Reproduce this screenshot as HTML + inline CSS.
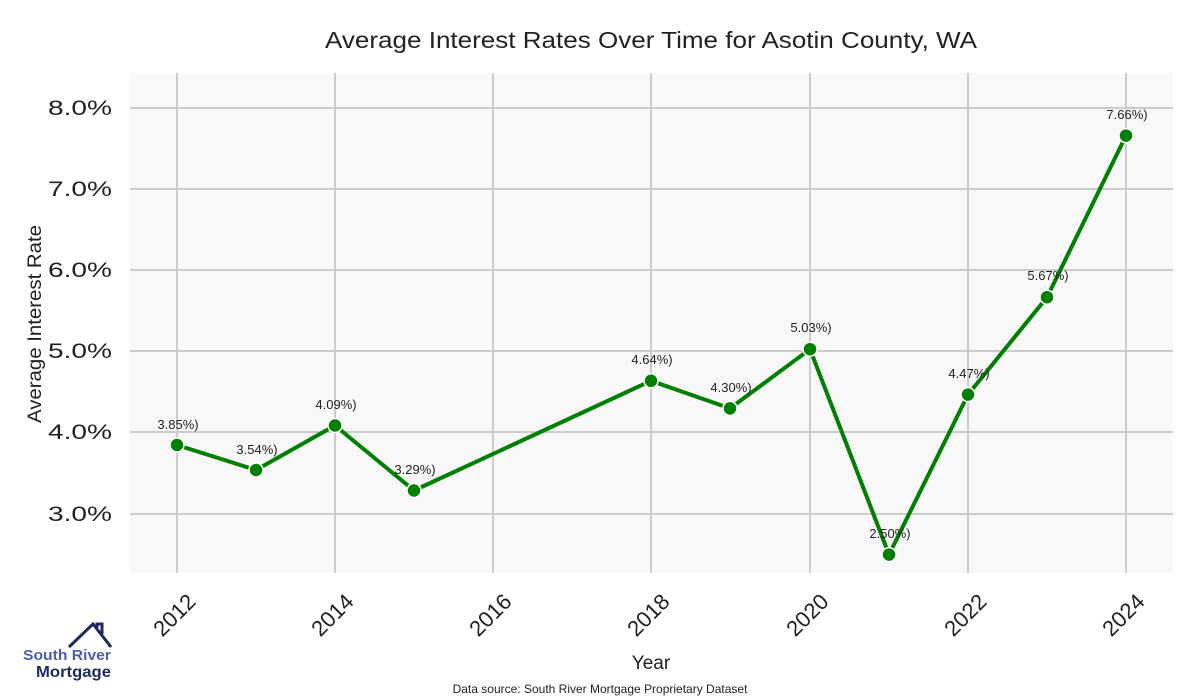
<!DOCTYPE html>
<html><head><meta charset="utf-8"><style>
body{margin:0;background:#fff;}
svg{display:block;font-family:"Liberation Sans",sans-serif;}
</style></head><body>
<svg width="1200" height="700" viewBox="0 0 1200 700">
<rect width="1200" height="700" fill="#fff"/>
<rect x="130" y="73" width="1043" height="500" fill="#f8f8f8"/>
<g stroke="#cccccc" stroke-width="2">
<line x1="177" y1="73" x2="177" y2="573"/><line x1="335" y1="73" x2="335" y2="573"/>
<line x1="493" y1="73" x2="493" y2="573"/><line x1="651" y1="73" x2="651" y2="573"/>
<line x1="810" y1="73" x2="810" y2="573"/><line x1="968" y1="73" x2="968" y2="573"/>
<line x1="1126" y1="73" x2="1126" y2="573"/>
<line x1="130" y1="108" x2="1173" y2="108"/><line x1="130" y1="189" x2="1173" y2="189"/>
<line x1="130" y1="270" x2="1173" y2="270"/><line x1="130" y1="351" x2="1173" y2="351"/>
<line x1="130" y1="432" x2="1173" y2="432"/><line x1="130" y1="514" x2="1173" y2="514"/>
</g>
<text x="325" y="48" font-size="23" fill="#222" textLength="652" lengthAdjust="spacingAndGlyphs">Average Interest Rates Over Time for Asotin County, WA</text>
<g font-size="21" fill="#222">
<text x="48" y="115" textLength="64" lengthAdjust="spacingAndGlyphs">8.0%</text><text x="48" y="196" textLength="64" lengthAdjust="spacingAndGlyphs">7.0%</text><text x="48" y="277" textLength="64" lengthAdjust="spacingAndGlyphs">6.0%</text>
<text x="48" y="358" textLength="64" lengthAdjust="spacingAndGlyphs">5.0%</text><text x="48" y="439" textLength="64" lengthAdjust="spacingAndGlyphs">4.0%</text><text x="48" y="521" textLength="64" lengthAdjust="spacingAndGlyphs">3.0%</text>
</g>
<text transform="translate(41,324) rotate(-90)" text-anchor="middle" font-size="19" fill="#222" textLength="198" lengthAdjust="spacingAndGlyphs">Average Interest Rate</text>
<g font-size="22" fill="#222" text-anchor="end">
<text transform="translate(197,603) rotate(-45)">2012</text>
<text transform="translate(355,603) rotate(-45)">2014</text>
<text transform="translate(513,603) rotate(-45)">2016</text>
<text transform="translate(671,603) rotate(-45)">2018</text>
<text transform="translate(830,603) rotate(-45)">2020</text>
<text transform="translate(988,603) rotate(-45)">2022</text>
<text transform="translate(1146,603) rotate(-45)">2024</text>
</g>
<text x="651" y="669" text-anchor="middle" font-size="19" fill="#222">Year</text>
<text x="600" y="693" text-anchor="middle" font-size="12" fill="#222">Data source: South River Mortgage Proprietary Dataset</text>
<polyline fill="none" stroke="#008000" stroke-width="4" stroke-linejoin="round" points="177,445 256,470 335,425.5 414,490.5 651,380.8 730,408.4 810,349.2 889,554.6 968,394.6 1047,297.2 1126,135.6"/>
<g fill="#008000" stroke="#fff" stroke-width="1.5">
<circle cx="177" cy="445" r="7"/><circle cx="256" cy="470" r="7"/><circle cx="335" cy="425.5" r="7"/>
<circle cx="414" cy="490.5" r="7"/><circle cx="651" cy="380.8" r="7"/><circle cx="730" cy="408.4" r="7"/>
<circle cx="810" cy="349.2" r="7"/><circle cx="889" cy="554.6" r="7"/><circle cx="968" cy="394.6" r="7"/>
<circle cx="1047" cy="297.2" r="7"/><circle cx="1126" cy="135.6" r="7"/>
</g>
<g font-size="13" fill="#222" text-anchor="middle">
<text x="178" y="429">3.85%)</text><text x="257" y="454">3.54%)</text><text x="336" y="409">4.09%)</text>
<text x="415" y="474">3.29%)</text><text x="652" y="364">4.64%)</text><text x="731" y="392">4.30%)</text>
<text x="811" y="332">5.03%)</text><text x="890" y="538">2.50%)</text><text x="969" y="378">4.47%)</text>
<text x="1048" y="280">5.67%)</text><text x="1127" y="119">7.66%)</text>
</g>
<polyline fill="none" stroke="#1f2a5c" stroke-width="3" points="69,647 93,624 111,647"/>
<polyline fill="none" stroke="#1f2a5c" stroke-width="3" points="97,628 97,624 102,624 102,634"/>
<text x="23" y="660" font-size="15" font-weight="bold" fill="#4a5fb0" textLength="88" lengthAdjust="spacingAndGlyphs">South River</text>
<text x="36" y="677" font-size="16" font-weight="bold" fill="#1f2a5c" textLength="75" lengthAdjust="spacingAndGlyphs">Mortgage</text>
</svg>
</body></html>
